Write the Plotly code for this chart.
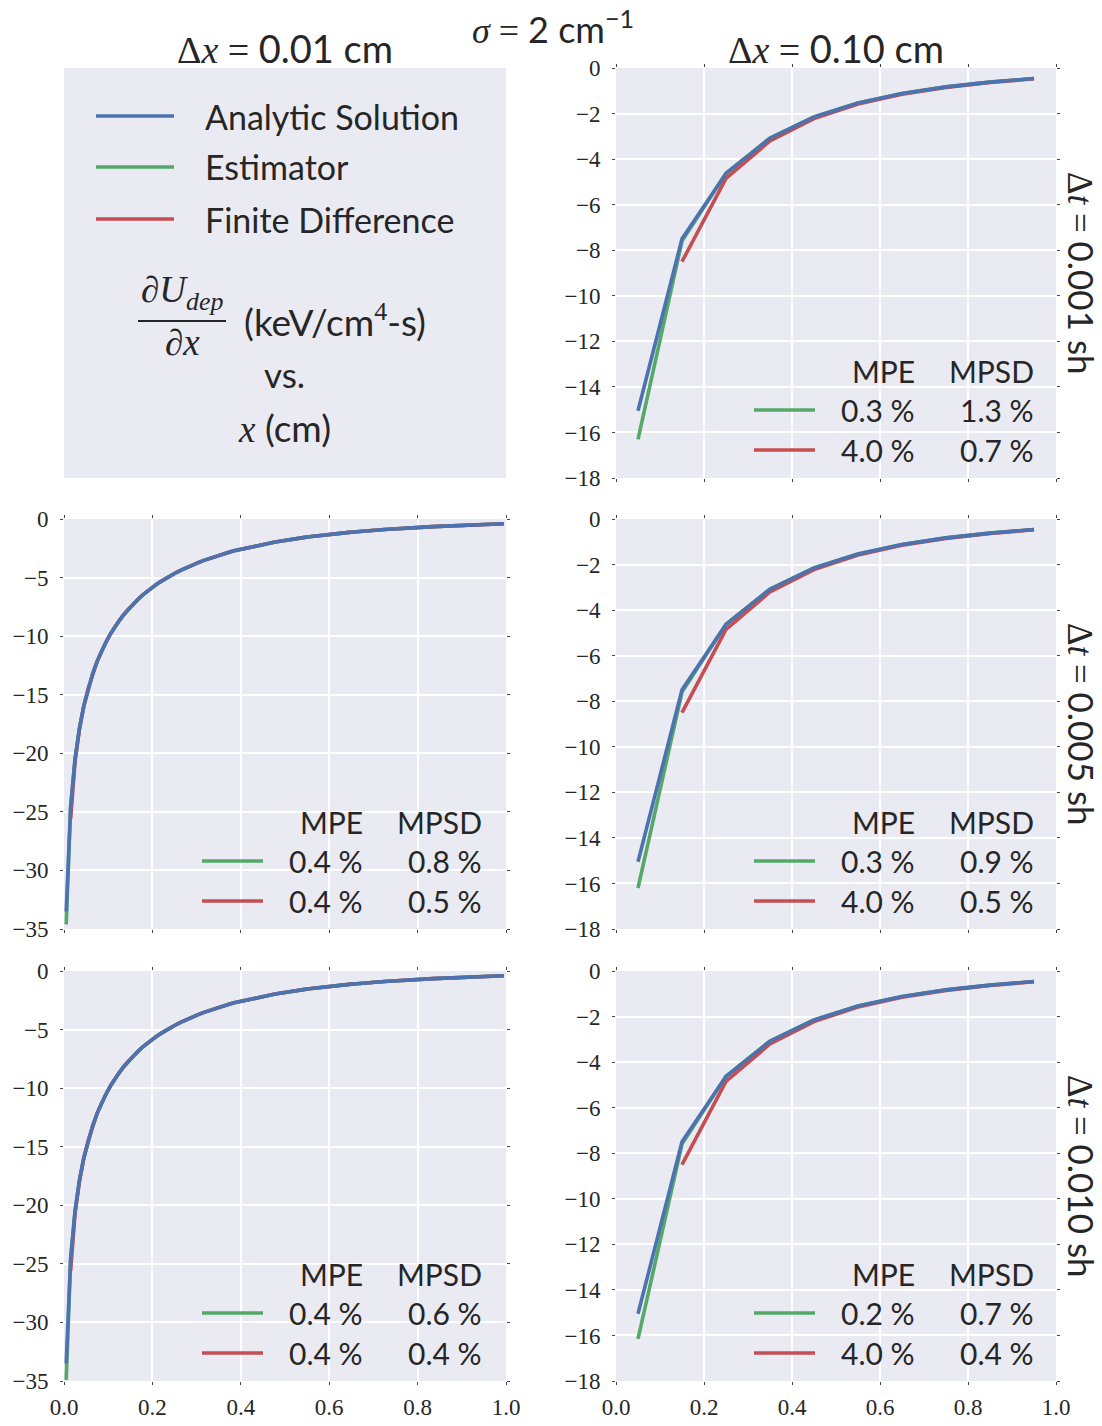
import plotly.graph_objects as go

W, H = 1102, 1426

# ---------------- data ----------------
# fine grid (dx = 0.01 cm) cell centres
x_fine = [round(0.005 + 0.01 * i, 3) for i in range(100)]
# coarse grid (dx = 0.10 cm) cell centres
x_coarse = [0.05, 0.15, 0.25, 0.35, 0.45, 0.55, 0.65, 0.75, 0.85, 0.95]
x_coarse_fd = [0.15, 0.25, 0.35, 0.45, 0.55, 0.65, 0.75, 0.85, 0.95]

analytic_fine = [
    -33.51, -24.56, -20.48, -17.85, -15.93, -14.42, -13.19, -12.15, -11.27, -10.50,
    -9.82, -9.21, -8.67, -8.17, -7.73, -7.32, -6.94, -6.59, -6.27, -5.97,
    -5.69, -5.43, -5.19, -4.96, -4.75, -4.55, -4.36, -4.18, -4.01, -3.85,
    -3.70, -3.55, -3.42, -3.29, -3.16, -3.04, -2.93, -2.82, -2.72, -2.63,
    -2.53, -2.44, -2.36, -2.28, -2.20, -2.12, -2.05, -1.98, -1.92, -1.85,
    -1.79, -1.73, -1.68, -1.62, -1.57, -1.52, -1.47, -1.42, -1.38, -1.34,
    -1.29, -1.25, -1.22, -1.18, -1.14, -1.11, -1.07, -1.04, -1.01, -0.98,
    -0.95, -0.92, -0.89, -0.87, -0.84, -0.82, -0.79, -0.77, -0.75, -0.73,
    -0.71, -0.69, -0.67, -0.65, -0.63, -0.61, -0.59, -0.58, -0.56, -0.54,
    -0.53, -0.51, -0.50, -0.49, -0.47, -0.46, -0.45, -0.44, -0.42, -0.41,
]
# estimator / finite difference on the fine grid coincide with the analytic
# curve except in the first cells
estimator_fine_dt005 = [-34.6, -24.6] + analytic_fine[2:]
estimator_fine_dt010 = [-34.9, -24.6] + analytic_fine[2:]
fd_fine_dt005 = [-25.6, -20.7, -17.95] + analytic_fine[4:]
fd_fine_dt010 = [-25.6, -20.7, -17.95] + analytic_fine[4:]

analytic_coarse = [-15.05, -7.50, -4.63, -3.08, -2.15, -1.54, -1.12, -0.83, -0.62, -0.46]
estimator_coarse_dt001 = [-16.3, -7.6, -4.62, -3.07, -2.15, -1.54, -1.12, -0.83, -0.62, -0.46]
estimator_coarse_dt005 = [-16.2, -7.6, -4.62, -3.07, -2.15, -1.54, -1.12, -0.83, -0.62, -0.46]
estimator_coarse_dt010 = [-16.15, -7.6, -4.62, -3.07, -2.15, -1.54, -1.12, -0.83, -0.62, -0.46]
fd_coarse = [-8.5, -4.85, -3.2, -2.22, -1.58, -1.15, -0.85, -0.64, -0.47]

stats_labels = ["MPE", "MPSD"]
stats_A = [("0.3 %", "1.3 %"), ("4.0 %", "0.7 %")]   # dx=0.10, dt=0.001
stats_B = [("0.4 %", "0.8 %"), ("0.4 %", "0.5 %")]   # dx=0.01, dt=0.005
stats_C = [("0.3 %", "0.9 %"), ("4.0 %", "0.5 %")]   # dx=0.10, dt=0.005
stats_D = [("0.4 %", "0.6 %"), ("0.4 %", "0.4 %")]   # dx=0.01, dt=0.010
stats_E = [("0.2 %", "0.7 %"), ("4.0 %", "0.4 %")]   # dx=0.10, dt=0.010

x_ticks = [0.0, 0.2, 0.4, 0.6, 0.8, 1.0]
x_ticktext = ["0.0", "0.2", "0.4", "0.6", "0.8", "1.0"]

# ---------------- style ----------------
BLUE, GREEN, RED = "#4C72B0", "#55A868", "#C44E52"
BG = "#EAEAF2"
TXT = "#262626"
SANS = "Lato"
SERIF = "Liberation Serif"
TICKFONT = dict(family=SERIF, size=23, color=TXT)


def m(s):
    return f'<span style="font-family:{SERIF}">{s}</span>'


PH = 410
panels = [
    # suffix, left, top, width, ymin, dtick, showx, estimator, fd, xs, xfd, analytic, stats
    ("", 616, 68, 440, -18, 2, False, estimator_coarse_dt001, fd_coarse, x_coarse, x_coarse_fd, analytic_coarse, stats_A),
    ("2", 64, 519, 442, -35, 5, False, estimator_fine_dt005, fd_fine_dt005, x_fine, x_fine[1:], analytic_fine, stats_B),
    ("3", 616, 519, 440, -18, 2, False, estimator_coarse_dt005, fd_coarse, x_coarse, x_coarse_fd, analytic_coarse, stats_C),
    ("4", 64, 971, 442, -35, 5, True, estimator_fine_dt010, fd_fine_dt010, x_fine, x_fine[1:], analytic_fine, stats_D),
    ("5", 616, 971, 440, -18, 2, True, estimator_coarse_dt010, fd_coarse, x_coarse, x_coarse_fd, analytic_coarse, stats_E),
]

fig = go.Figure()
shapes = []
annotations = []
layout = {}


def px(x):
    return x / W


def py(y):
    return 1 - y / H


for suf, L, T, pw, ymin, dt, showx, est, fd, xs, xfd, ana, stats in panels:
    layout["xaxis" + suf] = dict(
        domain=[px(L), px(L + pw)], anchor="y" + suf, range=[0, 1],
        tickvals=x_ticks, ticktext=x_ticktext, showticklabels=showx,
        showgrid=True, gridcolor="white", gridwidth=2, zeroline=False,
        showline=False, ticks="outside", ticklen=3, tickcolor="#444444",
        mirror="ticks", tickfont=TICKFONT, fixedrange=True, automargin=False,
        ticklabelstandoff=2,
    )
    layout["yaxis" + suf] = dict(
        domain=[py(T + PH), py(T)], anchor="x" + suf, range=[ymin, 0],
        dtick=dt, tick0=0, showgrid=True, gridcolor="white", gridwidth=2,
        zeroline=False, showline=False, ticks="outside", ticklen=3,
        tickcolor="#444444", mirror="ticks", tickfont=TICKFONT,
        ticklabelstandoff=7, fixedrange=True, automargin=False,
    )
    shapes.append(dict(type="rect", xref="paper", yref="paper",
                       x0=px(L), x1=px(L + pw), y0=py(T + PH), y1=py(T),
                       fillcolor=BG, line=dict(width=0), layer="below"))
    fig.add_trace(go.Scatter(x=xs, y=est, xaxis="x" + suf, yaxis="y" + suf, mode="lines",
                             line=dict(color=GREEN, width=3.6), showlegend=False, hoverinfo="skip"))
    fig.add_trace(go.Scatter(x=xfd, y=fd, xaxis="x" + suf, yaxis="y" + suf, mode="lines",
                             line=dict(color=RED, width=3.6), showlegend=False, hoverinfo="skip"))
    fig.add_trace(go.Scatter(x=xs, y=ana, xaxis="x" + suf, yaxis="y" + suf, mode="lines",
                             line=dict(color=BLUE, width=3.6), showlegend=False, hoverinfo="skip"))

    # stats table
    f = dict(family=SANS, size=30, color=TXT)
    c1, c2 = L + 301, L + 420
    annotations.append(dict(x=px(c1), y=py(T + 303), xref="paper", yref="paper", text=stats_labels[0],
                            xanchor="right", yanchor="middle", showarrow=False, font=f))
    annotations.append(dict(x=px(c2), y=py(T + 303), xref="paper", yref="paper", text=stats_labels[1],
                            xanchor="right", yanchor="middle", showarrow=False, font=f))
    for (v1, v2), dy, col in zip(stats, (342, 382), (GREEN, RED)):
        shapes.append(dict(type="line", xref="paper", yref="paper",
                           x0=px(L + 138), x1=px(L + 199), y0=py(T + dy), y1=py(T + dy),
                           line=dict(color=col, width=3.6)))
        annotations.append(dict(x=px(c1), y=py(T + dy), xref="paper", yref="paper", text=v1,
                                xanchor="right", yanchor="middle", showarrow=False, font=f))
        annotations.append(dict(x=px(c2), y=py(T + dy), xref="paper", yref="paper", text=v2,
                                xanchor="right", yanchor="middle", showarrow=False, font=f))

# ---------------- legend panel (top-left) ----------------
shapes.append(dict(type="rect", xref="paper", yref="paper",
                   x0=px(64), x1=px(506), y0=py(478), y1=py(68),
                   fillcolor=BG, line=dict(width=0), layer="below"))
for name, col, yy in (("Analytic Solution", BLUE, 116), ("Estimator", GREEN, 167),
                      ("Finite Difference", RED, 219)):
    shapes.append(dict(type="line", xref="paper", yref="paper",
                       x0=px(96), x1=px(174), y0=py(yy), y1=py(yy),
                       line=dict(color=col, width=3.6)))
    annotations.append(dict(x=px(203), y=py(yy), xref="paper", yref="paper", text=name,
                            xanchor="left", yanchor="middle", showarrow=False,
                            font=dict(family=SANS, size=34, color=TXT)))

annotations.append(dict(x=px(182), y=py(293), xref="paper", yref="paper",
                        text="∂<i>U</i><sub><i>dep</i></sub>", xanchor="center", yanchor="middle",
                        showarrow=False, font=dict(family=SERIF, size=37, color=TXT)))
shapes.append(dict(type="line", xref="paper", yref="paper", x0=px(138), x1=px(226),
                   y0=py(321), y1=py(321), line=dict(color=TXT, width=2)))
annotations.append(dict(x=px(182), y=py(343), xref="paper", yref="paper",
                        text="∂<i>x</i>", xanchor="center", yanchor="middle",
                        showarrow=False, font=dict(family=SERIF, size=37, color=TXT)))
annotations.append(dict(x=px(242), y=py(320), xref="paper", yref="paper",
                        text="(keV/cm<sup>" + m("4") + "</sup>-s)", xanchor="left", yanchor="middle",
                        showarrow=False, font=dict(family=SANS, size=37, color=TXT)))
annotations.append(dict(x=px(284), y=py(374), xref="paper", yref="paper",
                        text="vs.", xanchor="center", yanchor="middle",
                        showarrow=False, font=dict(family=SANS, size=35, color=TXT)))
annotations.append(dict(x=px(284), y=py(428), xref="paper", yref="paper",
                        text=m("<i>x</i>") + " (cm)", xanchor="center", yanchor="middle",
                        showarrow=False, font=dict(family=SANS, size=37, color=TXT)))

# ---------------- titles ----------------
annotations.append(dict(x=px(553), y=py(27), xref="paper", yref="paper",
                        text=m("<i>σ</i> = ") + "2 cm<sup>−1</sup>", xanchor="center", yanchor="middle",
                        showarrow=False, font=dict(family=SANS, size=36, color=TXT)))
for txt, cx in (("0.01 cm", 285), ("0.10 cm", 836)):
    annotations.append(dict(x=px(cx), y=py(48), xref="paper", yref="paper",
                            text=m("Δ<i>x</i> = ") + txt, xanchor="center", yanchor="middle",
                            showarrow=False, font=dict(family=SANS, size=38, color=TXT)))
for txt, cy in (("0.001 sh", 273), ("0.005 sh", 724), ("0.010 sh", 1176)):
    annotations.append(dict(x=px(1082), y=py(cy), xref="paper", yref="paper",
                            text=m("Δ<i>t</i> = ") + txt, xanchor="center", yanchor="middle",
                            textangle=90, showarrow=False,
                            font=dict(family=SANS, size=35, color=TXT)))

fig.update_layout(
    width=W, height=H, margin=dict(l=0, r=0, t=0, b=0, autoexpand=False),
    paper_bgcolor="white", plot_bgcolor=BG, showlegend=False,
    shapes=shapes, annotations=annotations, **layout,
)

fig.write_html("out.html")
